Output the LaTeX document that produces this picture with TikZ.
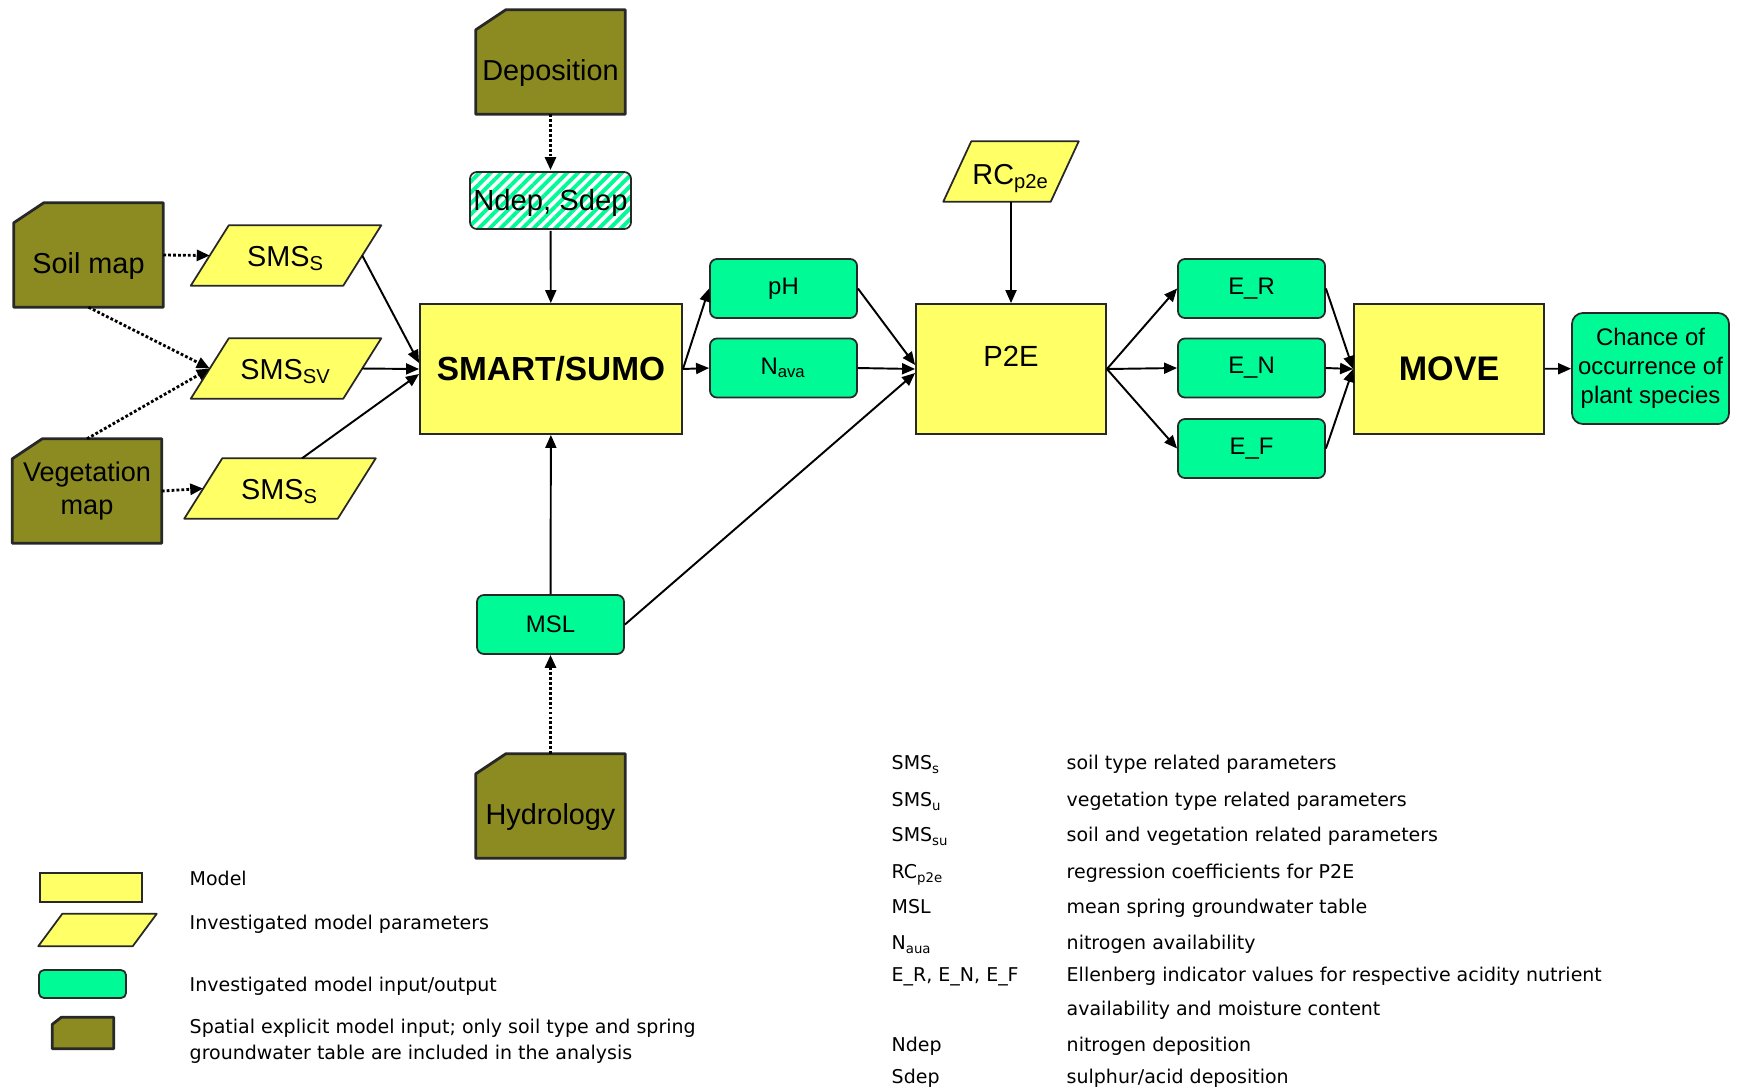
\documentclass[tikz,border=0pt]{standalone}
\usepackage{fontspec}
\setmainfont{Liberation Sans}
\newfontfamily\legendfont{DejaVu Sans}
\usepackage{xcolor}
\usetikzlibrary{arrows.meta,backgrounds,patterns.meta}

\definecolor{modelyellow}{RGB}{255,255,102}
\definecolor{iogreen}{RGB}{0,250,150}
\definecolor{mapolive}{RGB}{139,139,34}
\definecolor{edgegray}{RGB}{40,40,40}

\begin{document}
\begin{tikzpicture}[x=0.01cm, y=-0.01cm,
  modelbox/.style={rectangle, draw=edgegray, line width=0.5pt, fill=modelyellow, inner sep=0pt},
  parambox/.style={rectangle, inner sep=0pt, minimum height=0.59cm, text height=0.26cm, text depth=0.05cm,
    font=\fontsize{8.2}{10}\selectfont},
  paramfill/.style={draw=edgegray, line width=0.5pt, fill=modelyellow, line join=round},
  iobox/.style={rectangle, rounded corners=0.07cm, draw=edgegray, line width=0.5pt, fill=iogreen,
    minimum width=1.47cm, minimum height=0.59cm, inner sep=0pt, font=\fontsize{6.8}{8.2}\selectfont},
  mapbox/.style={rectangle, inner sep=0pt, minimum width=1.48cm, minimum height=1.03cm, font=\fontsize{8.2}{9.4}\selectfont},
  maptext/.style={text height=0.42cm, text depth=0.05cm},
  mapfill/.style={draw=edgegray, line width=0.8pt, fill=mapolive, line join=round},
  flowarrow/.style={-{Triangle[length=0.13cm,width=0.11cm]}, line width=0.55pt},
  feedarrow/.style={flowarrow, line width=0.8pt, dash pattern=on 0.8pt off 0.6pt},
  legtext/.style={anchor=west, inner sep=0pt, align=left, text height=4pt, text depth=1.2pt,
    font=\legendfont\fontsize{5.4}{7.4}\selectfont},
]
  \useasboundingbox (0,0) rectangle (1737,1090);

  % Spatial inputs
  \node[mapbox, maptext] (soil) at (88.5,255) {Soil map};
  \node[mapbox, align=center, font=\fontsize{7.7}{9.2}\selectfont] (veg) at (87,491) {Vegetation\\map};
  \node[mapbox, maptext] (dep) at (550.5,62) {Deposition};
  \node[mapbox, maptext] (hyd) at (550.5,806) {Hydrology};

  % Parameters
  \node[parambox, minimum width=1.51cm] (smsa) at (286,255.5) {SMS\textsubscript{S}};
  \node[parambox, minimum width=1.51cm] (smsv) at (286,368.5) {SMS\textsubscript{SV}};
  \node[parambox, minimum width=1.52cm] (smsb) at (280,488.5) {SMS\textsubscript{S}};
  \node[parambox, minimum width=1.06cm, text height=0.30cm] (rc) at (1011,171.5) {RC\textsubscript{p2e}};
  \node[draw=edgegray, line width=0.5pt, rounded corners=0.07cm,
    pattern={Lines[angle=45,distance=2.2pt,line width=1.1pt]}, pattern color=iogreen,
    minimum width=1.61cm, minimum height=0.57cm, inner sep=0pt, text height=0.24cm, text depth=0.05cm,
    font=\fontsize{8.3}{10}\selectfont] (ndep) at (550.5,200.5) {Ndep, Sdep};

  % Models
  \node[modelbox, minimum width=2.62cm, minimum height=1.30cm,
    font=\bfseries\fontsize{9.5}{11}\selectfont] (smart) at (551,369) {SMART/SUMO};
  \node[modelbox, minimum width=1.90cm, minimum height=1.30cm, text height=0.22cm, text depth=0.27cm,
    font=\fontsize{8.3}{10}\selectfont] (p2e) at (1011,369) {P2E};
  \node[modelbox, minimum width=1.90cm, minimum height=1.30cm,
    font=\bfseries\fontsize{9.7}{11}\selectfont] (move) at (1449,369) {MOVE};

  % Model input/output
  \node[iobox] (ph) at (783.5,288.5) {pH};
  \node[iobox] (nava) at (783.5,368) {N\textsubscript{ava}};
  \node[iobox] (msl) at (550.5,624.5) {MSL};
  \node[iobox] (er) at (1251.5,288.5) {E\_R};
  \node[iobox] (en) at (1251.5,368) {E\_N};
  \node[iobox] (ef) at (1251.5,448.5) {E\_F};
  \node[iobox, minimum width=1.57cm, minimum height=1.11cm, rounded corners=0.11cm, align=center]
    (chance) at (1650.5,368.5) {Chance of\\occurrence of\\plant species};

  % Key (left)
  \node[modelbox, minimum width=1.02cm, minimum height=0.29cm] (keymodel) at (91,887.5) {};
  \node[parambox, minimum width=0.93cm, minimum height=0.30cm] (keyparam) at (97.5,930) {};
  \node[iobox, minimum width=0.87cm, minimum height=0.28cm, rounded corners=0.05cm] (keyio) at (82.5,984) {};
  \node[mapbox, minimum width=0.60cm, minimum height=0.30cm] (keymap) at (83,1033) {};
  \node[legtext] (keymodeltext) at (189,881) {Model};
  \node[legtext] (keyparamtext) at (189,925) {Investigated model parameters};
  \node[legtext] (keyiotext) at (189,987) {Investigated model input/output};
  \node[legtext, text height=, text depth=] (keymaptext) at (189,1041)
    {Spatial explicit model input; only soil type and spring\\groundwater table are included in the analysis};

  % Abbreviations (right)
  \foreach \y/\abbr/\desc [count=\i] in {
      765/{SMS\textsubscript{s}}/{soil type related parameters},
      802/{SMS\textsubscript{u}}/{vegetation type related parameters},
      837/{SMS\textsubscript{su}}/{soil and vegetation related parameters},
      874/{RC\textsubscript{p2e}}/{regression coefficients for P2E},
      909/{MSL}/{mean spring groundwater table},
      945/{N\textsubscript{aua}}/{nitrogen availability},
      977/{E\_R, E\_N, E\_F}/{Ellenberg indicator values for respective acidity nutrient},
      1011/{}/{availability and moisture content},
      1047/{Ndep}/{nitrogen deposition},
      1079/{Sdep}/{sulphur/acid deposition}} {
    \node[legtext] (abbr\i) at (891,\y) {\abbr};
    \node[legtext] (desc\i) at (1066,\y) {\desc};
  }

  % Shapes behind the node texts
  \begin{scope}[on background layer]
    \foreach \n/\s in {smsa/0.19cm, smsv/0.19cm, smsb/0.19cm, rc/0.14cm, keyparam/0.12cm}
      \filldraw[paramfill] ([xshift=-\s]\n.south west) -- ([xshift=\s]\n.north west)
        -- ([xshift=\s]\n.north east) -- ([xshift=-\s]\n.south east) -- cycle;
    \foreach \n/\cx/\cy in {soil/0.3cm/0.2cm, veg/0.3cm/0.2cm, dep/0.3cm/0.2cm, hyd/0.3cm/0.2cm, keymap/0.09cm/0.07cm}
      \filldraw[mapfill] (\n.south west) -- ([yshift=-\cy]\n.north west) -- ([xshift=\cx]\n.north west)
        -- (\n.north east) -- (\n.south east) -- cycle;
  \end{scope}

  % Spatial inputs to parameters
  \draw[feedarrow] (soil.east) -- (smsa.west);
  \draw[feedarrow] (soil.south) -- (smsv.west);
  \draw[feedarrow] (veg.north) -- (smsv.west);
  \draw[feedarrow] (veg.east) -- (smsb.west);
  \draw[feedarrow] (dep) -- (ndep);
  \draw[feedarrow] (hyd) -- (msl);

  % Into SMART/SUMO
  \draw[flowarrow] (smsa.east) -- ([yshift=0.06cm]smart.west);
  \draw[flowarrow] (smsv.east) -- (smart.west);
  \draw[flowarrow] ([xshift=0.22cm]smsb.north) -- ([yshift=-0.05cm]smart.west);
  \draw[flowarrow] (ndep) -- (smart);
  \draw[flowarrow] (msl) -- (smart);

  % SMART/SUMO to P2E
  \draw[flowarrow] (smart.east) -- (ph.west);
  \draw[flowarrow] (smart.east) -- (nava.west);
  \draw[flowarrow] (ph.east) -- ([yshift=0.04cm]p2e.west);
  \draw[flowarrow] (nava.east) -- (p2e.west);
  \draw[flowarrow] (msl.east) -- ([yshift=-0.04cm]p2e.west);
  \draw[flowarrow] (rc) -- (p2e);

  % Ellenberg values to MOVE
  \foreach \e in {er,en,ef} {
    \draw[flowarrow] (p2e.east) -- (\e.west);
    \draw[flowarrow] (\e.east) -- (move.west);
  }
  \draw[flowarrow] (move) -- (chance);
\end{tikzpicture}
\end{document}
